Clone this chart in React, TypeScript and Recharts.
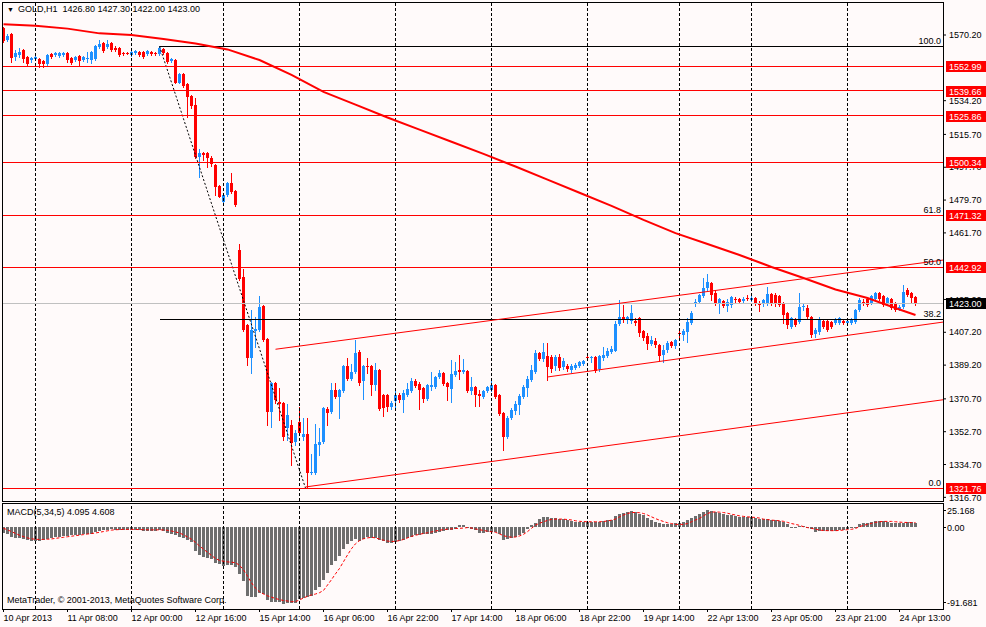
import { Bar, ComposedChart, Line, ReferenceLine, XAxis, YAxis } from "recharts";

const FONT = "'Liberation Sans', Arial, sans-serif";
const BG = "#FFFAFA";
const BULL = "#1E90FF";
const BEAR = "#FF0000";
const HIST = "#6E6E6E";

// H1 candles, one per bar index
const OPEN = [
  1574.0, 1567.5, 1570.8, 1558.1, 1559.2, 1562.0, 1558.1, 1556.5, 1557.1, 1557.1,
  1556.0, 1554.3, 1559.8, 1559.2, 1558.7, 1559.2, 1560.3, 1557.6, 1556.5, 1558.7,
  1556.5, 1557.3, 1556.5, 1557.1, 1563.6, 1565.8, 1563.6, 1565.8, 1563.1, 1563.1,
  1560.3, 1560.3, 1559.2, 1560.3, 1560.9, 1560.9, 1559.8, 1560.9, 1560.3, 1559.8,
  1562.5, 1560.3, 1556.0, 1556.5, 1544.1, 1548.8, 1543.3, 1536.8, 1531.8, 1503.3,
  1505.3, 1505.5, 1502.9, 1498.9, 1487.6, 1478.8, 1482.5, 1489.2, 1484.7, 1452.3,
  1437.5, 1411.2, 1393.1, 1408.0, 1408.5, 1421.6, 1403.5, 1363.5, 1379.4, 1369.0,
  1368.4, 1354.7, 1356.4, 1347.0, 1358.0, 1349.8, 1351.4, 1330.1, 1330.1, 1345.4,
  1347.0, 1365.1, 1363.5, 1375.5, 1371.7, 1375.0, 1388.7, 1381.7, 1385.4, 1396.4,
  1380.5, 1388.7, 1388.7, 1378.3, 1386.5, 1372.8, 1372.8, 1366.2, 1369.5, 1372.8,
  1370.1, 1372.8, 1375.0, 1380.5, 1378.8, 1376.7, 1370.6, 1377.2, 1377.2, 1382.7,
  1384.9, 1379.4, 1376.1, 1383.8, 1386.5, 1385.7, 1386.0, 1375.0, 1377.2, 1373.4,
  1371.7, 1375.0, 1375.5, 1378.3, 1372.8, 1362.9, 1349.8, 1360.2, 1364.1, 1367.3,
  1371.7, 1376.7, 1381.1, 1385.4, 1395.8, 1392.6, 1394.2, 1393.7, 1388.7, 1393.7,
  1388.2, 1388.7, 1386.5, 1387.6, 1388.7, 1389.8, 1393.7, 1393.1, 1393.7, 1387.1,
  1393.1, 1394.2, 1396.4, 1397.0, 1411.7, 1415.6, 1413.9, 1413.4, 1413.4, 1415.0,
  1407.9, 1405.2, 1400.8, 1402.4, 1400.2, 1394.8, 1397.5, 1401.9, 1399.7, 1406.8,
  1405.7, 1407.4, 1412.3, 1422.7, 1423.8, 1427.1, 1431.5, 1434.2, 1428.7, 1423.3,
  1424.4, 1421.6, 1422.2, 1425.5, 1425.5, 1424.4, 1426.0, 1424.9, 1426.0, 1423.3,
  1422.7, 1423.3, 1428.2, 1427.6, 1427.1, 1423.3, 1417.8, 1410.1, 1414.5, 1412.8,
  1421.1, 1420.5, 1415.6, 1406.3, 1407.4, 1413.4, 1413.4, 1412.8, 1412.3, 1412.3,
  1413.4, 1412.3, 1412.3, 1412.8, 1419.4, 1423.8, 1425.5, 1423.3, 1425.5, 1428.7,
  1427.1, 1423.3, 1425.5, 1423.3, 1420.0, 1421.1, 1430.4, 1428.7, 1426.8,
];
const HIGH = [
  1574.6, 1570.8, 1571.3, 1562.0, 1563.1, 1562.5, 1558.7, 1558.1, 1558.7, 1557.6,
  1556.5, 1559.8, 1560.3, 1560.9, 1560.9, 1560.9, 1560.9, 1558.1, 1558.7, 1559.2,
  1558.7, 1560.9, 1561.2, 1564.7, 1567.5, 1566.4, 1567.5, 1566.4, 1564.2, 1563.6,
  1560.9, 1560.9, 1561.4, 1562.0, 1561.4, 1561.4, 1562.0, 1561.4, 1561.0, 1564.1,
  1563.1, 1560.9, 1557.6, 1557.1, 1549.4, 1549.4, 1543.9, 1537.3, 1535.7, 1507.7,
  1506.1, 1506.1, 1503.9, 1499.5, 1488.0, 1483.0, 1489.6, 1494.5, 1485.2, 1455.6,
  1441.9, 1411.7, 1419.4, 1415.6, 1427.1, 1422.2, 1404.1, 1380.0, 1380.0, 1376.7,
  1369.0, 1367.9, 1359.1, 1353.6, 1366.2, 1360.2, 1360.2, 1340.5, 1356.9, 1354.7,
  1366.2, 1366.2, 1379.4, 1379.4, 1376.1, 1389.3, 1393.1, 1389.8, 1403.0, 1397.5,
  1389.3, 1393.1, 1389.3, 1390.4, 1387.1, 1373.4, 1373.4, 1369.5, 1375.5, 1373.9,
  1375.5, 1379.4, 1382.1, 1381.7, 1380.0, 1377.2, 1378.8, 1385.4, 1383.2, 1386.5,
  1385.4, 1380.0, 1392.0, 1390.9, 1394.8, 1392.6, 1386.5, 1382.7, 1377.8, 1375.5,
  1375.5, 1377.8, 1380.5, 1378.8, 1373.4, 1363.5, 1361.3, 1365.7, 1369.5, 1373.4,
  1378.3, 1383.2, 1389.3, 1397.5, 1396.4, 1401.3, 1401.3, 1394.8, 1394.8, 1395.3,
  1393.1, 1389.8, 1389.8, 1390.4, 1391.5, 1392.0, 1395.3, 1394.2, 1394.2, 1394.8,
  1399.1, 1398.6, 1399.7, 1413.4, 1424.9, 1422.2, 1416.1, 1422.2, 1415.0, 1415.6,
  1408.5, 1406.8, 1405.2, 1404.1, 1400.8, 1400.2, 1402.4, 1402.4, 1403.5, 1408.5,
  1409.0, 1415.0, 1418.9, 1425.5, 1428.2, 1437.0, 1439.2, 1434.8, 1430.4, 1426.0,
  1424.9, 1425.5, 1427.1, 1426.6, 1426.0, 1426.6, 1427.6, 1427.1, 1426.6, 1424.4,
  1425.5, 1432.0, 1428.7, 1428.7, 1427.6, 1423.8, 1418.3, 1415.6, 1415.0, 1428.7,
  1423.3, 1422.2, 1416.1, 1409.6, 1415.6, 1413.9, 1413.9, 1413.4, 1415.0, 1415.6,
  1413.9, 1413.9, 1415.0, 1420.0, 1426.0, 1425.5, 1426.0, 1427.6, 1429.3, 1429.3,
  1427.6, 1426.6, 1426.0, 1423.8, 1422.2, 1433.1, 1431.5, 1429.3, 1427.3,
];
const LOW = [
  1566.4, 1566.9, 1555.4, 1556.5, 1558.1, 1555.4, 1553.8, 1555.4, 1556.5, 1552.7,
  1552.7, 1553.8, 1557.6, 1558.7, 1558.1, 1558.7, 1555.4, 1554.3, 1556.0, 1553.8,
  1556.0, 1555.4, 1554.9, 1556.5, 1563.1, 1560.9, 1563.1, 1561.4, 1561.4, 1558.7,
  1559.2, 1559.8, 1558.7, 1559.8, 1558.7, 1557.6, 1559.2, 1559.2, 1559.0, 1559.2,
  1559.8, 1554.9, 1555.4, 1543.7, 1543.9, 1541.7, 1525.4, 1530.2, 1502.8, 1492.3,
  1501.7, 1498.0, 1498.4, 1482.5, 1481.4, 1477.0, 1481.9, 1483.6, 1476.5, 1435.9,
  1407.9, 1389.3, 1384.9, 1399.1, 1407.9, 1402.4, 1356.4, 1355.3, 1368.4, 1359.1,
  1348.1, 1348.1, 1334.4, 1345.4, 1350.9, 1348.1, 1321.76, 1329.5, 1329.5, 1339.9,
  1346.5, 1356.4, 1362.9, 1371.2, 1360.2, 1374.4, 1381.1, 1381.1, 1384.9, 1378.3,
  1370.6, 1384.9, 1372.8, 1375.5, 1364.6, 1361.3, 1364.1, 1365.1, 1365.7, 1369.0,
  1363.5, 1372.3, 1374.4, 1377.2, 1365.1, 1369.0, 1370.1, 1375.5, 1376.7, 1382.1,
  1378.3, 1370.1, 1369.0, 1383.2, 1381.7, 1384.9, 1374.4, 1373.4, 1366.8, 1366.8,
  1371.2, 1374.4, 1375.0, 1371.2, 1361.9, 1342.7, 1349.2, 1359.7, 1362.4, 1362.4,
  1371.2, 1372.3, 1380.5, 1384.9, 1392.0, 1391.5, 1381.1, 1385.4, 1386.5, 1386.5,
  1387.1, 1386.0, 1385.4, 1387.1, 1388.2, 1389.3, 1392.0, 1390.9, 1385.7, 1386.0,
  1392.0, 1393.7, 1395.8, 1396.9, 1411.2, 1412.9, 1412.3, 1412.3, 1411.2, 1405.2,
  1403.0, 1398.0, 1400.2, 1399.1, 1391.5, 1390.9, 1396.4, 1399.1, 1398.6, 1404.6,
  1403.0, 1401.9, 1411.5, 1421.6, 1423.3, 1426.6, 1430.4, 1424.9, 1422.2, 1417.8,
  1421.1, 1418.9, 1421.1, 1423.8, 1423.3, 1423.8, 1424.9, 1424.4, 1422.2, 1418.9,
  1421.6, 1422.2, 1422.2, 1421.6, 1421.6, 1412.3, 1409.6, 1409.6, 1410.6, 1412.3,
  1419.4, 1415.0, 1404.6, 1404.6, 1406.3, 1409.6, 1407.9, 1409.6, 1411.7, 1411.7,
  1411.7, 1411.7, 1411.7, 1412.3, 1418.9, 1422.2, 1421.6, 1422.7, 1424.9, 1424.9,
  1421.6, 1422.7, 1420.0, 1418.9, 1419.4, 1420.5, 1427.1, 1423.3, 1422.0,
];
const CLOSE = [
  1566.9, 1569.7, 1557.6, 1560.3, 1560.9, 1557.1, 1554.3, 1557.6, 1558.1, 1554.3,
  1554.3, 1559.2, 1558.1, 1560.3, 1560.3, 1560.3, 1556.5, 1554.9, 1558.1, 1556.0,
  1558.1, 1557.6, 1560.9, 1564.2, 1565.3, 1561.4, 1565.3, 1562.0, 1562.0, 1559.2,
  1559.8, 1560.0, 1560.9, 1561.4, 1559.2, 1558.1, 1561.4, 1559.8, 1559.6, 1563.1,
  1560.3, 1555.4, 1557.1, 1544.1, 1548.8, 1542.2, 1536.4, 1531.3, 1503.3, 1505.5,
  1504.4, 1502.8, 1499.5, 1486.9, 1481.5, 1482.5, 1488.9, 1484.3, 1477.0, 1436.4,
  1408.5, 1393.1, 1408.5, 1409.0, 1421.1, 1403.0, 1363.5, 1379.4, 1370.1, 1367.9,
  1349.8, 1361.9, 1346.5, 1352.0, 1352.0, 1351.4, 1330.1, 1330.6, 1346.0, 1347.2,
  1365.7, 1362.9, 1375.5, 1371.7, 1375.5, 1388.7, 1381.7, 1385.4, 1396.0, 1379.4,
  1388.7, 1388.2, 1378.3, 1386.5, 1365.1, 1365.7, 1366.2, 1368.4, 1372.8, 1370.1,
  1373.9, 1376.1, 1380.5, 1377.8, 1375.5, 1370.6, 1378.3, 1378.5, 1382.7, 1384.9,
  1378.8, 1377.2, 1384.3, 1386.0, 1385.4, 1386.3, 1375.0, 1377.2, 1372.8, 1372.3,
  1375.0, 1377.2, 1378.3, 1371.7, 1362.4, 1349.8, 1360.2, 1364.6, 1367.9, 1372.3,
  1377.2, 1381.6, 1386.5, 1395.8, 1392.6, 1396.4, 1388.2, 1387.1, 1393.7, 1387.6,
  1391.5, 1387.1, 1388.7, 1389.3, 1390.9, 1391.5, 1393.1, 1393.7, 1386.0, 1394.2,
  1394.8, 1396.9, 1398.0, 1411.7, 1415.6, 1413.9, 1415.6, 1417.8, 1412.3, 1406.8,
  1404.1, 1400.8, 1403.0, 1400.2, 1394.2, 1397.5, 1401.3, 1399.7, 1403.0, 1406.3,
  1407.9, 1412.8, 1417.8, 1423.8, 1427.6, 1431.5, 1434.8, 1427.6, 1422.7, 1425.5,
  1421.6, 1423.8, 1426.6, 1424.9, 1423.8, 1425.5, 1425.5, 1426.0, 1422.7, 1422.2,
  1424.9, 1428.2, 1423.3, 1422.7, 1422.2, 1416.7, 1411.2, 1415.0, 1411.2, 1421.1,
  1421.6, 1415.6, 1405.7, 1408.5, 1413.9, 1410.1, 1408.5, 1410.1, 1414.5, 1415.0,
  1412.3, 1413.4, 1414.5, 1419.4, 1424.9, 1423.3, 1422.2, 1427.1, 1428.7, 1425.5,
  1422.2, 1426.0, 1420.5, 1419.4, 1421.1, 1429.3, 1427.6, 1426.0, 1423.0,
];

// moving average, read at every 8th bar
const MA_BARS = [0, 8, 16, 24, 32, 40, 48, 56, 64, 72, 80, 88, 96, 104, 112, 120, 128, 136, 144, 152, 160, 168, 176, 184, 192, 200, 208, 216, 224, 228];
const MA_VALUES = [1576.1, 1575.3, 1573.7, 1571.1, 1570.2, 1568.0, 1565.5, 1562.3, 1556.5, 1548.3, 1539.0, 1532.0, 1525.0, 1518.3, 1511.7, 1505.0, 1498.1, 1490.9, 1483.7, 1476.5, 1468.8, 1461.6, 1455.6, 1449.6, 1443.0, 1437.0, 1430.7, 1426.0, 1419.7, 1416.7];

// MACD(5,34,5) histogram and signal
const MACD = [
  -6.5, -8.3, -11.2, -12.7, -12.7, -13.8, -14.9, -15.6, -15.6, -15.6,
  -14.9, -13.8, -12.7, -12.0, -11.2, -10.5, -10.1, -9.7, -9.4, -9.0,
  -8.6, -8.3, -7.6, -6.1, -4.6, -3.9, -3.2, -2.9, -3.2, -3.5,
  -3.9, -3.9, -3.9, -3.9, -4.2, -4.6, -4.6, -4.6, -4.6, -3.9,
  -4.6, -6.5, -8.3, -9.4, -11.2, -12.7, -14.9, -17.5, -27.4, -31.1,
  -34.0, -34.8, -35.8, -40.6, -42.1, -44.3, -43.2, -43.2, -45.0, -53.1,
  -60.5, -77.4, -78.8, -78.8, -73.7, -75.2, -81.8, -83.7, -83.7, -83.7,
  -86.5, -85.4, -85.4, -84.8, -81.0, -79.9, -78.8, -77.4, -70.8, -67.1,
  -59.0, -51.7, -43.2, -37.7, -32.2, -24.8, -19.3, -15.6, -13.8, -15.6,
  -13.8, -12.0, -12.7, -13.1, -14.9, -16.3, -18.6, -18.6, -17.5, -16.3,
  -14.9, -12.7, -11.2, -9.7, -9.0, -8.3, -8.3, -7.6, -6.5, -5.4,
  -4.6, -3.9, -3.2, -2.5, 1.5, 1.5, -2.0, -2.9, -3.7, -6.6,
  -6.6, -5.5, -5.5, -5.5, -8.1, -14.7, -13.9, -12.8, -11.0, -9.2,
  -6.6, -2.9, 2.2, 4.4, 8.1, 10.3, 10.3, 9.2, 9.2, 8.1,
  8.1, 7.3, 6.6, 5.5, 5.5, 5.5, 5.5, 5.5, 4.8, 5.5,
  6.2, 7.3, 7.3, 11.7, 13.9, 15.4, 16.5, 17.2, 16.5, 14.7,
  12.8, 9.2, 7.3, 5.5, 3.7, 2.6, 2.6, 2.6, 3.7, 3.7,
  5.1, 7.3, 9.2, 11.7, 13.9, 16.5, 19.1, 17.6, 16.5, 15.4,
  13.9, 12.8, 12.8, 11.7, 11.0, 11.0, 11.0, 10.3, 9.2, 8.1,
  8.1, 8.1, 7.3, 7.3, 6.6, 5.1, 2.6, -0.7, -1.8, 0.4,
  0.3, -0.7, -2.9, -5.5, -4.4, -4.4, -4.4, -4.4, -4.4, -3.7,
  -3.7, -2.9, -1.8, 0.2, 2.6, 3.7, 4.4, 5.1, 5.9, 5.9,
  5.9, 5.5, 4.4, 3.7, 3.7, 4.4, 4.8, 4.8, 4.095,
];
const SIGNAL = [
  -1.8, -3.5, -5.5, -7.5, -9.5, -11.0, -12.5, -13.5, -14.0, -14.2,
  -14.2, -14.0, -13.6, -13.0, -12.4, -11.8, -11.2, -10.6, -10.0, -9.4,
  -8.8, -8.2, -7.6, -7.0, -6.2, -5.4, -4.6, -3.8, -3.4, -3.2,
  -3.0, -3.0, -3.0, -3.1, -3.2, -3.3, -3.4, -3.5, -3.5, -3.5,
  -3.6, -4.0, -4.8, -5.8, -7.0, -9.0, -11.5, -14.0, -17.5, -21.5,
  -25.0, -28.5, -32.0, -35.5, -37.5, -38.5, -39.2, -39.6, -40.0, -43.0,
  -48.0, -55.0, -62.5, -68.5, -72.5, -75.0, -77.0, -78.5, -80.0, -81.2,
  -82.2, -82.8, -83.5, -83.5, -81.5, -79.5, -77.5, -76.0, -75.0, -73.5,
  -71.0, -65.0, -59.0, -52.5, -46.5, -39.0, -31.5, -24.5, -19.0, -15.5,
  -13.5, -12.5, -11.8, -12.5, -13.8, -15.0, -16.0, -16.5, -16.2, -15.5,
  -14.2, -12.5, -10.8, -9.5, -8.5, -7.5, -6.8, -5.8, -4.8, -4.0,
  -3.2, -2.8, -2.4, -2.0, -1.8, -1.5, -1.0, -1.5, -2.5, -3.3,
  -4.2, -5.0, -5.6, -6.2, -8.0, -10.0, -11.2, -11.7, -11.5, -10.3,
  -8.5, -5.5, -1.8, 1.8, 3.8, 5.5, 7.0, 8.1, 8.4, 8.5,
  8.4, 8.0, 7.5, 6.6, 6.0, 5.7, 5.5, 5.5, 5.5, 5.5,
  5.8, 6.4, 7.3, 8.5, 11.0, 13.0, 14.7, 15.8, 15.8, 15.6,
  14.7, 13.0, 11.0, 9.0, 7.3, 5.8, 4.4, 3.5, 2.6, 2.6,
  2.6, 3.5, 5.5, 7.5, 9.2, 12.0, 14.7, 16.2, 16.5, 16.2,
  15.8, 15.0, 13.9, 13.0, 12.1, 11.5, 11.0, 10.6, 10.3, 9.6,
  8.4, 8.0, 7.3, 7.0, 6.6, 6.0, 4.8, 3.5, 2.6, 1.5,
  0.0, -1.0, -1.8, -2.8, -3.7, -4.2, -4.4, -4.4, -4.4, -4.2,
  -3.7, -3.3, -2.9, -2.0, 0.0, 1.5, 2.6, 3.7, 4.8, 5.5,
  5.9, 5.9, 5.9, 5.5, 5.1, 4.8, 4.7, 4.6, 4.608,
];

// price scale ticks (1552.20 and 1443.70 sit fully under the price tags)
const PRICE_TICKS = [1570.2, 1534.2, 1515.7, 1497.7, 1479.7, 1461.7, 1425.2, 1407.2, 1389.2, 1370.7, 1352.7, 1334.7, 1316.7];
const RED_LEVELS = [1552.99, 1539.66, 1525.86, 1500.34, 1471.32, 1442.92, 1321.76];
const BID = 1423.0;

// Fibonacci retracement from the swing high (bar 39) to the low (bar 75.5)
const FIB_START_BAR = 39;
const FIB_END_BAR = 75.5;
const FIB_PRICES = [1564.08, 1471.32, 1442.92, 1414.3, 1321.76];
const FIB_LABELS = ["100.0", "61.8", "50.0", "38.2", "0.0"];

// channel trend lines: [bar1, price1, bar2, price2]
const TRENDLINES = [
  [68, 1397.9, 234.875, 1446.8],
  [136, 1382.7, 234.875, 1412.8],
  [75.5, 1322.4, 234.875, 1370.2],
];

const DAY_BARS = [8, 32, 55, 74, 98, 122, 146, 169, 187, 211];
const TIME_BARS = [0, 16, 32, 48, 64, 80, 96, 112, 128, 144, 160, 176, 192, 208, 224];
const TIME_LABELS = [
  "10 Apr 2013", "11 Apr 08:00", "12 Apr 00:00", "12 Apr 16:00", "15 Apr 14:00",
  "16 Apr 06:00", "16 Apr 22:00", "17 Apr 14:00", "18 Apr 06:00", "18 Apr 22:00",
  "19 Apr 14:00", "22 Apr 13:00", "23 Apr 05:00", "23 Apr 21:00", "24 Apr 13:00",
];
const MACD_TICKS = [25.168, 0, -91.681];
const MACD_TICK_LABELS = ["25.168", "0.00", "-91.681"];

const X_DOMAIN: [number, number] = [-0.375, 234.875];
const Y_DOMAIN: [number, number] = [1314.7, 1588.3];

const rows = OPEN.map((open, i) => {
  const m = MA_BARS.indexOf(i);
  return {
    i,
    open,
    high: HIGH[i],
    low: LOW[i],
    close: CLOSE[i],
    range: [LOW[i], HIGH[i]],
    ma: m >= 0 ? MA_VALUES[m] : null,
    macd: MACD[i],
    signal: SIGNAL[i],
  };
});

function Candle(props: any) {
  const { x, y, width, height, payload } = props;
  if (x == null || y == null || !payload) return null;
  const { open, close, high, low } = payload;
  const top = Math.min(y, y + height);
  const h = Math.abs(height);
  const span = high - low || 1;
  const yOf = (v: number) => top + ((high - v) / span) * h;
  const cx = Math.floor(x + width / 2);
  const color = close >= open ? BULL : BEAR;
  const b1 = Math.round(yOf(Math.max(open, close)));
  const b2 = Math.round(yOf(Math.min(open, close)));
  return (
    <g>
      <line x1={cx + 0.5} x2={cx + 0.5} y1={Math.round(top)} y2={Math.round(top + h) + 1} stroke={color} />
      <rect x={cx - 1} y={b1} width={3} height={Math.max(1, b2 - b1)} fill={color} />
    </g>
  );
}

function MacdBar(props: any) {
  const { x, y, width, height } = props;
  if (x == null || y == null) return null;
  const cx = Math.floor(x + width / 2);
  const top = Math.round(Math.min(y, y + height));
  const bot = Math.round(Math.max(y, y + height));
  return <rect x={cx - 1} y={top} width={3} height={Math.max(1, bot - top)} fill={HIST} />;
}

const crisp = (p: any) => (
  <line
    x1={p.x1}
    y1={p.y1}
    x2={p.x2}
    y2={p.y2}
    stroke={p.stroke}
    strokeWidth={p.strokeWidth}
    strokeDasharray={p.strokeDasharray}
    shapeRendering="crispEdges"
  />
);

const levelLabel = (tag: string, bg: string, fib?: string) => (props: any) => {
  const vb = props.viewBox;
  if (!vb) return null;
  const right = vb.x + vb.width;
  const y = Math.round(vb.y);
  return (
    <g>
      {fib && (
        <text x={right - 2} y={y - 2} textAnchor="end" fontSize={9} fontFamily={FONT} fill="#000">
          {fib}
        </text>
      )}
      <rect x={right + 3} y={y - 5} width={43} height={11} fill={bg} />
      <text x={right + 6} y={y + 3.5} fontSize={9} fontFamily={FONT} fill="#FFFFFF">
        {tag}
      </text>
    </g>
  );
};

const fibLabel = (text: string) => (props: any) => {
  const vb = props.viewBox;
  if (!vb) return null;
  return (
    <text x={vb.x + vb.width - 2} y={Math.round(vb.y) - 2} textAnchor="end" fontSize={9} fontFamily={FONT} fill="#000">
      {text}
    </text>
  );
};

function TimeTick(props: any) {
  const { x, y, payload } = props;
  const k = TIME_BARS.indexOf(payload.value);
  return (
    <text x={x} y={y + 9} fontSize={9} fontFamily={FONT} fill="#000">
      {TIME_LABELS[k]}
    </text>
  );
}

function MacdTick(props: any) {
  const { x, y, payload } = props;
  const k = MACD_TICKS.indexOf(payload.value);
  const dy = k === 0 ? 6 : k === 2 ? -7 : 0;
  const ty = Math.round(y + dy);
  return (
    <g>
      <line x1={x - 4} x2={x - 1} y1={ty + 0.5} y2={ty + 0.5} stroke="#000" />
      <text x={x} y={ty + 3.5} fontSize={9} fontFamily={FONT} fill="#000">
        {MACD_TICK_LABELS[k]}
      </text>
    </g>
  );
}

const textStyle = {
  position: "absolute" as const,
  fontFamily: FONT,
  fontSize: 9,
  lineHeight: "11px",
  color: "#000",
  whiteSpace: "nowrap" as const,
};

const MAIN_MARGIN = { top: 2, right: 0, bottom: 1, left: 2 };

export default function App() {
  const fibIdx = (p: number) => FIB_PRICES.indexOf(p);
  return (
    <div style={{ position: "absolute", left: 0, top: 0, width: 986, height: 627, background: BG, overflow: "hidden" }}>
      <div style={{ position: "absolute", left: 0, top: 0 }}>
        <ComposedChart width={986} height={502} data={rows} margin={MAIN_MARGIN}>
          <XAxis dataKey="i" type="number" domain={X_DOMAIN} hide allowDataOverflow />
          <YAxis
            orientation="right"
            domain={Y_DOMAIN}
            ticks={PRICE_TICKS}
            interval={0}
            width={43}
            allowDataOverflow
            axisLine={false}
            tickLine={{ stroke: "#000" }}
            tickSize={3}
            tickMargin={3}
            tick={{ fontSize: 9, fill: "#000", fontFamily: FONT }}
            tickFormatter={(v: number) => v.toFixed(2)}
          />
          {DAY_BARS.map((b) => (
            <ReferenceLine key={"d" + b} x={b} stroke="#000" strokeDasharray="3 2" shape={crisp} ifOverflow="visible" />
          ))}
          <ReferenceLine y={BID} stroke="#C0C0C0" shape={crisp} />
          <ReferenceLine
            segment={[{ x: FIB_START_BAR, y: FIB_PRICES[0] }, { x: FIB_END_BAR, y: FIB_PRICES[4] }]}
            stroke="#000"
            strokeDasharray="2 2"
            ifOverflow="visible"
          />
          {[0, 3].map((k) => (
            <ReferenceLine
              key={"f" + k}
              segment={[{ x: FIB_START_BAR, y: FIB_PRICES[k] }, { x: X_DOMAIN[1], y: FIB_PRICES[k] }]}
              stroke="#000"
              shape={crisp}
              ifOverflow="visible"
              label={fibLabel(FIB_LABELS[k])}
            />
          ))}
          {TRENDLINES.map((t, k) => (
            <ReferenceLine
              key={"t" + k}
              segment={[{ x: t[0], y: t[1] }, { x: t[2], y: t[3] }]}
              stroke={BEAR}
              ifOverflow="visible"
            />
          ))}
          <Bar dataKey="range" shape={Candle} barSize={3} isAnimationActive={false} />
          <Line
            dataKey="ma"
            type="linear"
            stroke={BEAR}
            strokeWidth={2}
            dot={false}
            connectNulls
            isAnimationActive={false}
          />
          {RED_LEVELS.map((p) => (
            <ReferenceLine key={"r" + p} y={p} stroke={BEAR} shape={crisp} />
          ))}
        </ComposedChart>
      </div>

      {/* price tags drawn above the price scale, on the same scales */}
      <div style={{ position: "absolute", left: 0, top: 0 }}>
        <ComposedChart width={986} height={502} data={rows} margin={MAIN_MARGIN}>
          <XAxis dataKey="i" type="number" domain={X_DOMAIN} hide allowDataOverflow />
          <YAxis
            orientation="right"
            domain={Y_DOMAIN}
            width={43}
            allowDataOverflow
            axisLine={false}
            tickLine={false}
            tick={false}
          />
          {RED_LEVELS.map((p) => {
            const f = fibIdx(p);
            return (
              <ReferenceLine
                key={"tag" + p}
                y={p}
                stroke="none"
                label={levelLabel(p.toFixed(2), BEAR, f >= 0 ? FIB_LABELS[f] : undefined)}
              />
            );
          })}
          <ReferenceLine y={BID} stroke="none" label={levelLabel(BID.toFixed(2), "#000")} />
        </ComposedChart>
      </div>

      <div style={{ position: "absolute", left: 0, top: 502 }}>
        <ComposedChart width={986} height={125} data={rows} margin={{ top: 1, right: 0, bottom: 0, left: 2 }}>
          <XAxis
            dataKey="i"
            type="number"
            domain={X_DOMAIN}
            ticks={TIME_BARS}
            interval={0}
            height={18}
            allowDataOverflow
            axisLine={false}
            tickLine={{ stroke: "#000" }}
            tickSize={3}
            tickMargin={0}
            tick={<TimeTick />}
          />
          <YAxis
            orientation="right"
            domain={[-91.681, 26.4]}
            ticks={MACD_TICKS}
            interval={0}
            width={43}
            allowDataOverflow
            axisLine={false}
            tickLine={false}
            tickSize={0}
            tickMargin={4}
            tick={<MacdTick />}
          />
          {DAY_BARS.map((b) => (
            <ReferenceLine key={"md" + b} x={b} stroke="#000" strokeDasharray="3 2" shape={crisp} ifOverflow="visible" />
          ))}
          <Bar dataKey="macd" shape={MacdBar} barSize={3} isAnimationActive={false} />
          <Line
            dataKey="signal"
            type="linear"
            stroke={BEAR}
            strokeWidth={1}
            strokeDasharray="3 2"
            dot={false}
            isAnimationActive={false}
          />
        </ComposedChart>
      </div>

      {/* panel frames */}
      <div style={{ position: "absolute", left: 2, top: 2, width: 942, height: 500, border: "1px solid #000", boxSizing: "border-box" }} />
      <div style={{ position: "absolute", left: 2, top: 503, width: 942, height: 107, border: "1px solid #000", boxSizing: "border-box" }} />

      <div style={{ ...textStyle, left: 7, top: 4 }}>
        <span style={{ fontSize: 7, marginRight: 4 }}>▼</span>GOLD,H1&nbsp; 1426.80 1427.30 1422.00 1423.00
      </div>
      <div style={{ ...textStyle, left: 7, top: 507 }}>MACD(5,34,5) 4.095 4.608</div>
      <div style={{ ...textStyle, left: 7, top: 595 }}>MetaTrader, © 2001-2013, MetaQuotes Software Corp.</div>
    </div>
  );
}
